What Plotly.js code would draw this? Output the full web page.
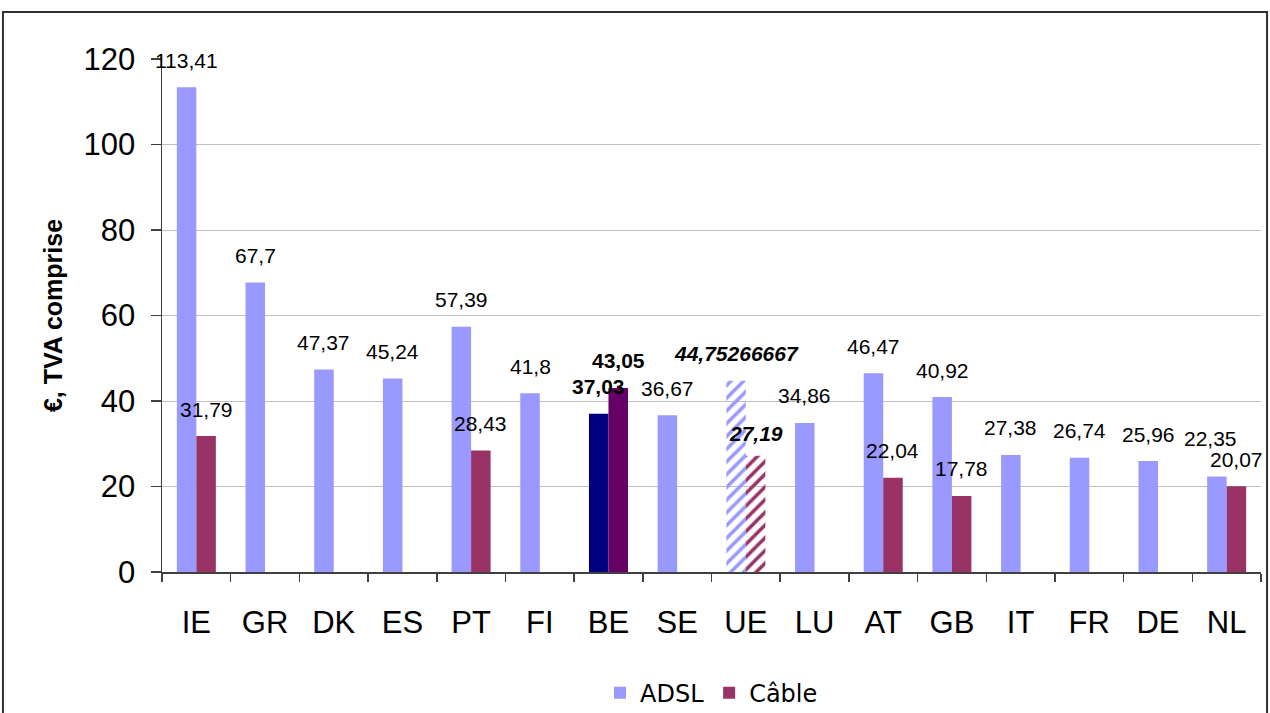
<!DOCTYPE html>
<html>
<head>
<meta charset="utf-8">
<script src="https://cdn.plot.ly/plotly-3.0.1.min.js"></script>
<style>
  html, body { margin: 0; padding: 0; background: #ffffff; }
  #chart { width: 1270px; height: 713px; }
</style>
</head>
<body>
<div id="chart"></div>
<script>
// Monthly broadband prices per country, VAT included (EUR)
const categories = ['IE', 'GR', 'DK', 'ES', 'PT', 'FI', 'BE', 'SE', 'UE', 'LU', 'AT', 'GB', 'IT', 'FR', 'DE', 'NL'];
const adslValues = [113.41, 67.7, 47.37, 45.24, 57.39, 41.8, 37.03, 36.67, 44.75266667, 34.86, 46.47, 40.92, 27.38, 26.74, 25.96, 22.35];
const cableValues = [31.79, null, null, null, 28.43, null, 43.05, null, 27.19, null, 22.04, 17.78, null, null, null, 20.07];
const seriesNames = ['ADSL', 'Câble'];
const yTicks = [0, 20, 40, 60, 80, 100, 120];

const HOME = 'BE';      // highlighted country
const AVERAGE = 'UE';   // EU average, drawn hatched

const adslColor = '#9999ff', cableColor = '#993366';
const homeAdsl = '#000080', homeCable = '#660066';

const bargap = 0.432;
const halfBar = (1 - bargap) / 4; // centre offset of each bar within its group

const fmt = v => String(v).replace('.', ',');

function colorsFor(base, home) {
  return categories.map(c => (c === HOME ? home : base));
}
const hatch = categories.map(c => (c === AVERAGE ? '/' : ''));

const traces = [
  {
    type: 'bar', name: seriesNames[0], x: categories, y: adslValues,
    marker: {
      color: colorsFor(adslColor, homeAdsl),
      line: { width: 0 },
      pattern: { shape: hatch, fgcolor: '#ffffff', size: 9, solidity: 0.4 }
    },
    hoverinfo: 'x+y'
  },
  {
    type: 'bar', name: seriesNames[1], x: categories, y: cableValues,
    marker: {
      color: colorsFor(cableColor, homeCable),
      line: { width: 0 },
      pattern: { shape: hatch, fgcolor: '#b4b4b4', size: 9, solidity: 0.4 }
    },
    hoverinfo: 'x+y'
  }
];

// Nudges (px) for labels that would otherwise collide
const labelNudge = { 'NL|0': { dx: -6, dy: 11 }, 'UE|1': { dx: 0, dy: -5 } };

const annotations = [];
[adslValues, cableValues].forEach((vals, s) => {
  vals.forEach((v, i) => {
    if (v === null || v === undefined) return;
    const cat = categories[i];
    const nudge = labelNudge[cat + '|' + s] || { dx: 0, dy: 0 };
    let txt = fmt(v);
    if (cat === HOME) txt = '<b>' + txt + '</b>';
    if (cat === AVERAGE) txt = '<b><i>' + txt + '</i></b>';
    annotations.push({
      x: i + (s === 0 ? -halfBar : halfBar), y: v,
      xref: 'x', yref: 'y',
      text: txt, showarrow: false,
      xanchor: 'center', yanchor: 'middle',
      xshift: nudge.dx, yshift: 27 + nudge.dy,
      font: { family: 'Liberation Sans, Arial, sans-serif', size: 21, color: '#000000' }
    });
  });
});

const layout = {
  width: 1270, height: 713,
  margin: { l: 162, r: 9, t: 59, b: 141 },
  paper_bgcolor: '#ffffff', plot_bgcolor: '#ffffff',
  barmode: 'group', bargap: bargap, bargroupgap: 0,
  font: { family: 'Liberation Sans, Arial, sans-serif', color: '#000000' },
  showlegend: true,
  legend: {
    orientation: 'h', x: 0.5, xanchor: 'center',
    yref: 'container', y: 0.028, yanchor: 'middle',
    font: { family: 'DejaVu Sans, sans-serif', size: 24, color: '#000000' },
    itemsizing: 'constant', itemwidth: 30
  },
  xaxis: {
    type: 'category', categoryorder: 'array', categoryarray: categories,
    range: [-0.5, categories.length - 0.5], automargin: false,
    showline: true, linecolor: '#404040', linewidth: 1.5,
    ticks: 'outside', tickson: 'boundaries', ticklen: 8, tickcolor: '#404040', tickwidth: 1.5,
    ticklabelstandoff: 22,
    tickfont: { family: 'Liberation Sans, Arial, sans-serif', size: 31, color: '#000000' },
    showgrid: false, zeroline: false, fixedrange: true
  },
  yaxis: {
    range: [0, 120], tickvals: yTicks, ticktext: yTicks.map(String), automargin: false,
    showline: true, linecolor: '#404040', linewidth: 1.5,
    ticks: 'outside', ticklen: 10, tickcolor: '#404040', tickwidth: 1.5,
    ticklabelstandoff: 9,
    tickfont: { family: 'Liberation Sans, Arial, sans-serif', size: 31, color: '#000000' },
    showgrid: true, gridcolor: '#c0c0c0', gridwidth: 1, zeroline: false,
    title: {
      text: '<b>€, TVA comprise</b>', standoff: 14,
      font: { family: 'Liberation Sans, Arial, sans-serif', size: 25, color: '#000000' }
    },
    fixedrange: true
  },
  annotations: annotations,
  shapes: [{
    type: 'rect', xref: 'paper', yref: 'paper',
    x0: -0.1447, x1: 1.0055, y0: -0.32, y1: 1.0916,
    line: { color: '#303030', width: 2 }, fillcolor: 'rgba(0,0,0,0)', layer: 'below'
  }]
};

Plotly.newPlot('chart', traces, layout, { displayModeBar: false, staticPlot: true });
</script>
</body>
</html>
